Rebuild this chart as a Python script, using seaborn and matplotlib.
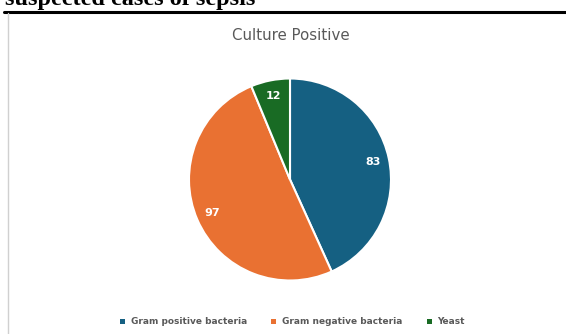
import matplotlib
matplotlib.use("Agg")
import matplotlib.pyplot as plt
import seaborn as sns
from matplotlib.lines import Line2D
from matplotlib.patches import Patch

categories = ["Gram positive bacteria", "Gram negative bacteria", "Yeast"]
values = [83, 97, 12]
colors = ["#156082", "#E97132", "#196B24"]
title = "Culture Positive"
caption = "suspected cases of sepsis"

sns.set_style("white")
plt.rcParams['font.family'] = ['DejaVu Sans']

W, H = 566, 334
fig = plt.figure(figsize=(W / 100, H / 100), dpi=100)

# page elements
fig.text(5 / W, 1 - 5.5 / H, caption, family="Liberation Serif", fontweight="bold",
         fontsize=17.5, ha="left", va="baseline", color="black")
fig.add_artist(Line2D([4 / W, 1], [1 - 11.5 / H, 1 - 11.5 / H], color="black", lw=2.2,
                      transform=fig.transFigure))
fig.add_artist(Line2D([8 / W, 8 / W], [0, 1 - 13 / H], color="#d0d0d0", lw=1,
                      transform=fig.transFigure))

# pie
cx, cy, r = 290, 179.5, 101
ax = fig.add_axes([(cx - r) / W, 1 - (cy + r) / H, 2 * r / W, 2 * r / H])
wedges, texts = ax.pie(values, colors=colors, startangle=90, counterclock=False,
                       labels=[str(v) for v in values], labeldistance=0.84,
                       wedgeprops=dict(edgecolor="white", linewidth=1.5),
                       textprops=dict(color="white", fontweight="bold", fontsize=8))
for t in texts:
    t.set_ha("center")
    t.set_va("center")
ax.set_xlim(-1, 1)
ax.set_ylim(-1, 1)
ax.set_aspect("equal")
ax.axis("off")

fig.text(290.5 / W, 1 - 35 / H, title, ha="center", va="center", fontsize=10.8,
         color="#595959")

handles = [Patch(facecolor=c, edgecolor="none") for c in colors]
fig.legend(handles, categories, loc="center", bbox_to_anchor=(292.5 / W, 1 - 322 / H),
           ncol=3, frameon=False, handlelength=0.55, handleheight=0.55,
           handletextpad=0.6, columnspacing=2.7,
           prop=dict(family="DejaVu Sans", weight="bold", size=6.5))
for t in fig.legends[0].get_texts():
    t.set_color("#595959")

fig.savefig("out.png", dpi=100)
